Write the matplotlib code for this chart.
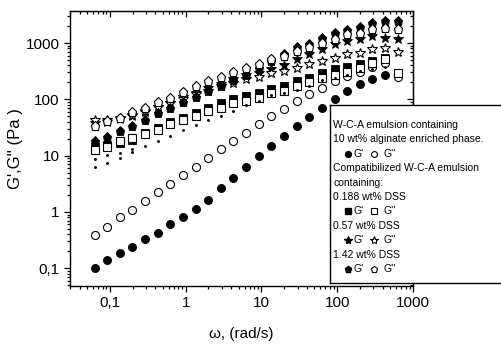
import matplotlib
matplotlib.use("Agg")
import matplotlib.pyplot as plt
from matplotlib.ticker import FuncFormatter, LogLocator, NullFormatter

plt.rcParams['font.family'] = ['Liberation Sans', 'DejaVu Sans']

# angular frequency, rad/s
omega = [0.0628, 0.0922, 0.135, 0.199, 0.292, 0.428, 0.628, 0.922, 1.35, 1.99,
         2.92, 4.28, 6.28, 9.22, 13.5, 19.9, 29.2, 42.8, 62.8, 92.2,
         135, 199, 292, 428, 628]

# W-C-A emulsion, 10 wt% alginate enriched phase
wca_g1 = [0.10, 0.14, 0.19, 0.24, 0.33, 0.43, 0.61, 0.82, 1.13, 1.61,
          2.67, 3.96, 6.26, 9.7, 15.1, 22.7, 33.2, 48.9, 69.5, 100,
          139, 187, 225, 276]
wca_g2 = [0.39, 0.55, 0.80, 1.09, 1.59, 2.27, 3.19, 4.47, 6.31, 8.97,
          13.0, 18.3, 25.7, 36.4, 50, 67.8, 93.3, 122, 156, 210,
          258, 312, 368, 433, 254]

# 0.188 wt% DSS
dss188_g1 = [14.5, 15.7, 17.1, 19.3, 25.7, 31.5, 40.3, 47.5, 58.2, 71.5,
             87.7, 102, 114, 131, 154, 171, 210, 241, 288, 339,
             368, 416, 476, 553, 299]
dss188_g2 = [12.8, 14.5, 18.0, 20.7, 24.7, 29.1, 37.2, 42.5, 50.1, 61.4,
             70.6, 86.7, 92.5, 106, 131, 143, 171, 201, 241, 276,
             303, 363, 446, 525, 288]
dss188_dots = [6.3, 7.43, 9.23, 11.7, 14.7, 18.0, 22.7, 29.0, 35.6, 43.7,
               51.5, 61.4, 80.9, 95.2, 117, 127, 149, 176, 216, 244,
               265, 325, 339, 368]
dss188_dots2 = [8.87, 10.4, 11.3, 13.3]

# 0.57 wt% DSS
dss057_g1 = [38.7, 40.3, 45.6, 51.5, 60.7, 74.5, 87.7, 108, 132, 156,
             191, 225, 265, 299, 339, 399, 510, 626, 768, 942,
             1080, 1190, 1360, 1240, 1160]
dss057_g2 = [43.7, 42.9, 47.5, 53.7, 63.2, 74.5, 87.7, 103, 122, 143,
             169, 199, 225, 254, 296, 316, 363, 428, 476, 547,
             626, 671, 768, 824, 688]

# 1.42 wt% DSS
dss142_g1 = [18.0, 21.5, 27.1, 33.2, 43.7, 57.5, 70.6, 88.8, 111, 138,
             176, 216, 276, 353, 470, 626, 834, 970, 1240, 1480,
             1690, 1950, 2230, 2440, 2440]
dss142_g2 = [33.2, 40.8, 46.9, 59.0, 70.6, 88.8, 106, 134, 171, 210,
             251, 303, 363, 416, 510, 584, 716, 834, 1010, 1190,
             1420, 1520, 1740, 1870, 1790]

legend_lines = [
    "W-C-A emulsion containing",
    "10 wt% alginate enriched phase.",
    ("o", "o"),
    "Compatibilized W-C-A emulsion",
    "containing:",
    "0.188 wt% DSS",
    ("s", "s"),
    "0.57 wt% DSS",
    ("*", "*"),
    "1.42 wt% DSS",
    ("p", "p"),
]

fig = plt.figure(figsize=(5.02, 3.45), dpi=100)
ax = fig.add_axes([70 / 502, 59 / 345, 343 / 502, 275.3 / 345])


def filled(x, y, m, s):
    ax.plot(x[:len(y)], y, ls="none", marker=m, ms=s, mfc="black", mec="black", mew=0.6)


def hollow(x, y, m, s):
    ax.plot(x[:len(y)], y, ls="none", marker=m, ms=s, mfc="white", mec="black", mew=0.8)


filled(omega, wca_g1, "o", 5.8)
hollow(omega, wca_g2, "o", 5.8)
filled(omega, dss057_g1, "*", 7.2)
hollow(omega, dss057_g2, "*", 7.2)
filled(omega, dss188_g1, "s", 5.2)
hollow(omega, dss188_g2, "s", 5.2)
ax.plot(omega[:len(dss188_dots)], dss188_dots, ls="none", marker="o", ms=1.1, color="black")
ax.plot(omega[:len(dss188_dots2)], dss188_dots2, ls="none", marker="o", ms=1.1, color="black")
filled(omega, dss142_g1, "p", 6.6)
hollow(omega, dss142_g2, "p", 6.6)

ax.set_xscale("log")
ax.set_yscale("log")
ax.set_xlim(0.0298, 1000)
ax.set_ylim(0.0484, 3750)


def comma_fmt(v, pos):
    if v < 1:
        return "0,1"
    return "%d" % round(v)


for axis in (ax.xaxis, ax.yaxis):
    axis.set_major_locator(LogLocator(base=10, numticks=10))
    axis.set_minor_locator(LogLocator(base=10, subs=range(2, 10), numticks=10))
    axis.set_major_formatter(FuncFormatter(comma_fmt))
    axis.set_minor_formatter(NullFormatter())

ax.tick_params(which="both", direction="out", width=0.9, labelsize=11)
ax.tick_params(which="major", length=4)
ax.tick_params(which="minor", length=2.2)
for sp in ax.spines.values():
    sp.set_linewidth(1.0)

top = ax.secondary_xaxis("top")
top.tick_params(which="both", direction="in", width=0.9)
top.tick_params(which="major", length=4)
top.tick_params(which="minor", length=2.2)
top.xaxis.set_major_formatter(NullFormatter())
top.xaxis.set_minor_formatter(NullFormatter())

right = ax.secondary_yaxis("right")
right.tick_params(which="both", direction="in", width=0.9)
right.tick_params(which="major", length=4)
right.tick_params(which="minor", length=2.2)
right.yaxis.set_major_formatter(NullFormatter())
right.yaxis.set_minor_formatter(NullFormatter())

ax.set_xlabel("ω, (rad/s)", fontsize=11, labelpad=12)
ax.set_ylabel("G',G'' (Pa )", fontsize=12, labelpad=2)

# legend box, laid out in pixel units
lax = fig.add_axes([330 / 502, 62 / 345, 0.36, 178 / 345], zorder=5)
lax.set_xlim(330, 510)
lax.set_ylim(283, 105)
lax.set_xticks([])
lax.set_yticks([])
for sp in lax.spines.values():
    sp.set_linewidth(1.0)

row_y = 125
for item in legend_lines:
    if isinstance(item, tuple):
        ms = {"o": 4.2, "s": 3.8, "*": 6, "p": 5}[item[0]]
        lax.plot([347.5], [row_y], ls="none", marker=item[0], ms=ms, mfc="black", mec="black")
        lax.text(353, row_y, "G'", fontsize=7.5, va="center")
        lax.plot([374], [row_y], ls="none", marker=item[1], ms=ms, mfc="white", mec="black", mew=0.8)
        lax.text(383, row_y, "G''", fontsize=7.5, va="center")
    else:
        lax.text(333, row_y, item, fontsize=7.5, va="center")
    row_y += 14.4

fig.savefig("out.png", dpi=100)
